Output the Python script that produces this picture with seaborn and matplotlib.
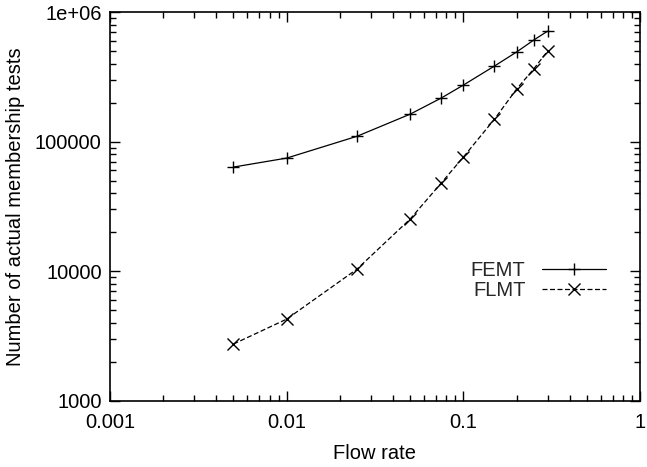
import numpy as np
import pandas as pds
import seaborn as sns
import matplotlib.pyplot as plt
from matplotlib.ticker import LogLocator, NullFormatter, FixedLocator, FixedFormatter

# flow rate vs number of actual membership tests
flow_rate = [0.005, 0.01, 0.025, 0.05, 0.075, 0.1, 0.15, 0.2, 0.25, 0.3]
femt = [63700, 74700, 110000, 163000, 217000, 273000, 383000, 491000, 607000, 712000]
flmt = [2750, 4280, 10400, 25300, 48000, 76000, 149000, 254000, 363000, 500000]

x_ticks = [0.001, 0.01, 0.1, 1]
x_tick_labels = ["0.001", "0.01", "0.1", "1"]
y_ticks = [1000, 10000, 100000, 1000000]
y_tick_labels = ["1000", "10000", "100000", "1e+06"]

FS = 14.5

sns.set_theme(style="ticks")
plt.rcParams['font.family'] = ['Liberation Sans', 'DejaVu Sans']

fig = plt.figure(figsize=(6.47, 4.67), dpi=100)
ax = fig.add_axes([110/647, 66/467, 530/647, 389/467])

df = pds.DataFrame({
    "rate": flow_rate * 2,
    "tests": femt + flmt,
    "name": ["FEMT"] * len(flow_rate) + ["FLMT"] * len(flow_rate),
})

sns.lineplot(data=df, x="rate", y="tests", hue="name", style="name",
             palette=["black", "black"], markers=["+", "x"],
             dashes=["", (4, 2)], markersize=9, markeredgewidth=1,
             markeredgecolor="black", linewidth=0.9, ax=ax, legend=True)

ax.set_xscale("log")
ax.set_yscale("log")
ax.set_xlim(0.001, 1)
ax.set_ylim(1000, 1e6)

ax.xaxis.set_major_locator(FixedLocator(x_ticks))
ax.xaxis.set_major_formatter(FixedFormatter(x_tick_labels))
ax.yaxis.set_major_locator(FixedLocator(y_ticks))
ax.yaxis.set_major_formatter(FixedFormatter(y_tick_labels))
ax.xaxis.set_minor_locator(LogLocator(base=10, subs=np.arange(2, 10)))
ax.yaxis.set_minor_locator(LogLocator(base=10, subs=np.arange(2, 10)))
ax.xaxis.set_minor_formatter(NullFormatter())
ax.yaxis.set_minor_formatter(NullFormatter())

ax.tick_params(which="both", direction="in", top=True, right=True,
               color="black", labelsize=FS, labelcolor="black", width=1)
ax.tick_params(which="major", length=7)
ax.tick_params(which="minor", length=4)
ax.tick_params(axis="x", which="major", pad=9)
ax.tick_params(axis="y", which="major", pad=6)
for s in ax.spines.values():
    s.set_color("black")
    s.set_linewidth(1.2)

ax.set_xlabel("Flow rate", fontsize=FS, color="black", labelpad=8)
ax.set_ylabel("Number of actual membership tests", fontsize=FS, color="black", labelpad=7)

handles, labels = ax.get_legend_handles_labels()
ax.legend(handles, labels, loc="center right", bbox_to_anchor=(0.955, 0.31),
          frameon=False, markerfirst=False, handlelength=3.2, fontsize=FS,
          labelspacing=0.05, handletextpad=0.8, borderpad=0)

fig.savefig("out.png", dpi=100)
